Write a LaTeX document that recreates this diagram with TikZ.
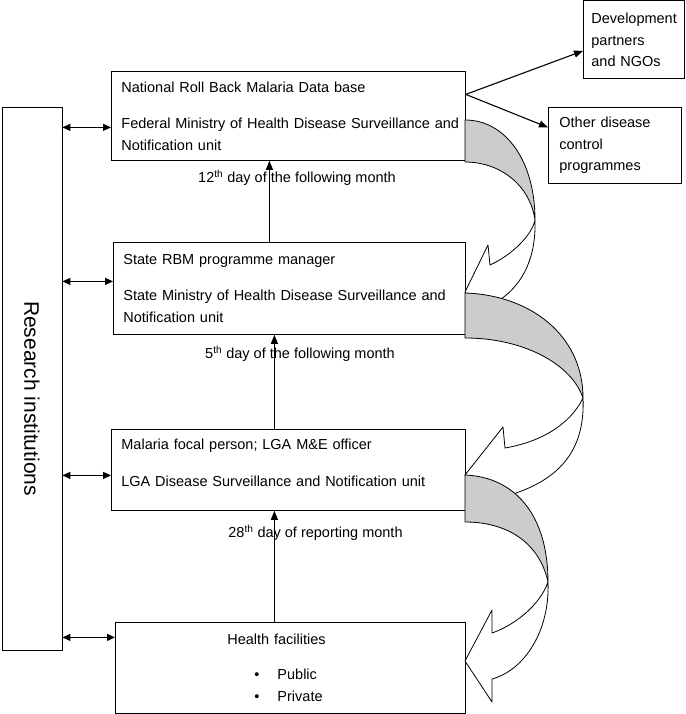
\documentclass[tikz,border=0pt]{standalone}
\usepackage{fontspec}
\setmainfont{Liberation Sans}
\usetikzlibrary{arrows.meta, positioning}
\definecolor{bandgrey}{RGB}{204,204,204}

\begin{document}
\begin{tikzpicture}[
    x=1pt, y=-1pt,
    font=\fontsize{14.5}{21.5}\selectfont,
    box/.style={draw, line width=0.8pt, rectangle, anchor=north west, align=left, inner xsep=10pt},
    lbl/.style={inner sep=0pt},
    arr/.style={-{Triangle[length=9pt,width=7pt]}, line width=1.1pt},
    both/.style={{Triangle[length=8pt,width=7pt]}-{Triangle[length=8pt,width=7pt]}, line width=1.1pt},
    curve/.style={draw, line width=0.8pt, line join=round}
]
    \fill[white] (0,0) rectangle (685,714);
    \useasboundingbox (0,0) rectangle (685,714);

    % Nodes
    \node[box, text width=334pt, minimum height=89pt] (fed) at (111,71)
        {National Roll Back Malaria Data base\\[15pt]\mbox{Federal Ministry of Health Disease Surveillance and}\\Notification unit};
    \node[box, text width=332pt, minimum height=92pt] (state) at (113,242)
        {State RBM programme manager\\[15pt]\mbox{State Ministry of Health Disease Surveillance and}\\Notification unit};
    \node[box, text width=334pt, minimum height=81pt, text depth=51pt] (lga) at (111,429)
        {Malaria focal person; LGA M\&E officer\\[15pt]LGA Disease Surveillance and Notification unit};
    \node[box, text width=330pt, minimum height=91pt] (hf) at (115,622)
        {\hspace*{102pt}Health facilities\\[13pt]\hspace*{129pt}\textbullet\hspace{18pt}Public\\[1pt]\hspace*{129pt}\textbullet\hspace{18pt}Private};
    \node[box, text width=85pt, inner xsep=8pt, minimum height=78pt] (dev) at (583,0.5)
        {Development\\partners\\and NGOs};
    \node[box, text width=111pt, inner xsep=11pt, minimum height=76pt] (oth) at (548,107)
        {Other disease\\control\\programmes};
    \node[draw, line width=0.8pt, rotate=-90, minimum width=543pt, minimum height=60pt,
        font=\fontsize{21}{25}\selectfont] (ri) at (32,378.5) {\hspace*{40pt}Research institutions};

    % Labels
    \node[lbl] (d12) at (297,178) {12\textsuperscript{th} day of the following month};
    \node[lbl] (d5) at (300,354) {5\textsuperscript{th} day of the following month};
    \node[lbl] (d28) at (315.5,533) {28\textsuperscript{th} day of reporting month};

    % Reporting arrows
    \coordinate (u1) at ([xshift=-20pt]state.north);
    \coordinate (u2) at ([xshift=-14pt]lga.north);
    \coordinate (u3) at ([xshift=-16pt]hf.north);
    \draw[arr] (u1) -- (u1 |- fed.south);
    \draw[arr] (u2) -- (u2 |- state.south);
    \draw[arr] (u3) -- (u3 |- lga.south);

    % Research links
    \coordinate (l1) at ([yshift=-11.5pt]fed.west);
    \coordinate (l2) at ([yshift=7pt]state.west);
    \coordinate (l3) at ([yshift=-5.5pt]lga.west);
    \coordinate (l4) at ([yshift=30.5pt]hf.west);
    \draw[both] (l1 -| ri.north) -- (l1);
    \draw[both] (l2 -| ri.north) -- (l2);
    \draw[both] (l3 -| ri.north) -- (l3);
    \draw[both] (l4 -| ri.north) -- (l4);

    % Feedback to partners
    \coordinate (fan) at ([yshift=21.5pt]fed.east);
    \draw[arr] (fan) -- ([yshift=-11pt]dev.west);
    \draw[arr] (fan) -- ([yshift=18pt]oth.west);

    % Curved feedback arrows
    \draw[curve, fill=white] (535,220) .. controls (536,255) and (525,285) .. (495,303) -- (480,312)
        -- (465,292) -- (488,245) -- (490,265) .. controls (512,255) and (532,235) .. cycle;
    \draw[curve, fill=bandgrey] (465,120) .. controls (505,120) and (535,160) .. (535,220)
        .. controls (530,185) and (500,162) .. (465,162) -- cycle;

    \draw[curve, fill=white] (583,398) .. controls (585,445) and (565,478) .. (510,495) -- (488,505)
        -- (465,475) -- (503,427) -- (505,448) .. controls (540,442) and (570,425) .. cycle;
    \draw[curve, fill=bandgrey] (465,293) .. controls (530,295) and (583,335) .. (583,398)
        .. controls (572,365) and (525,338) .. (465,338) -- cycle;

    \draw[curve, fill=white] (548,582) .. controls (550,630) and (525,670) .. (492,679) -- (492,702)
        -- (465,661) -- (492,610) -- (492,633) .. controls (515,625) and (540,605) .. cycle;
    \draw[curve, fill=bandgrey] (465,475) .. controls (515,477) and (548,515) .. (548,582)
        .. controls (540,545) and (510,522) .. (465,522) -- cycle;
\end{tikzpicture}
\end{document}
